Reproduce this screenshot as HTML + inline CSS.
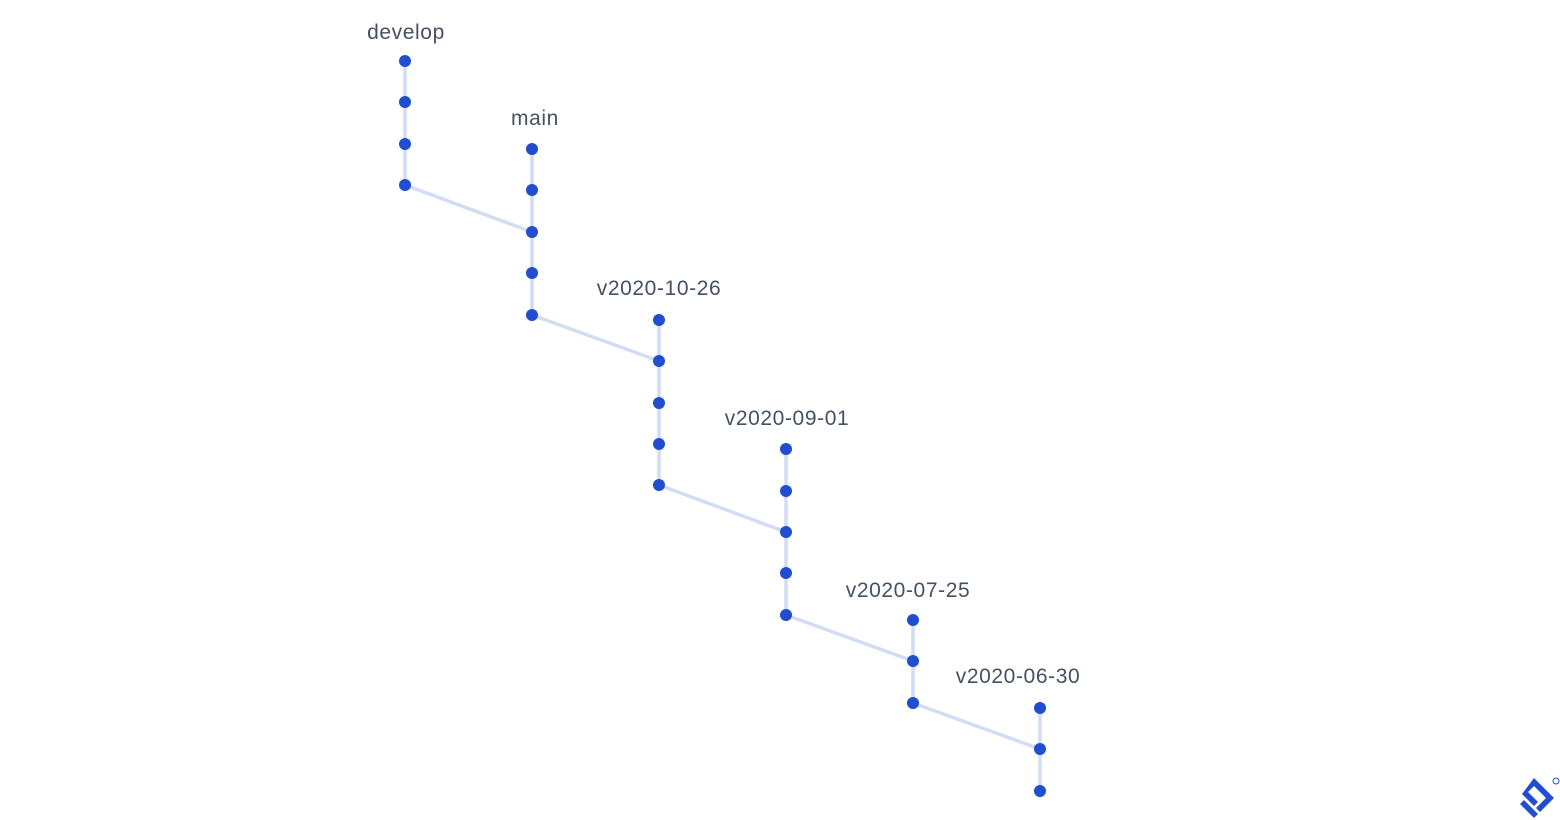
<!DOCTYPE html>
<html><head><meta charset="utf-8"><style>
html,body{margin:0;padding:0;background:#fff;}
svg{display:block}
text{font-family:"Liberation Sans",sans-serif;font-size:21px;letter-spacing:0.6px;fill:#455065;text-anchor:middle}
</style></head><body>
<svg width="1560" height="820" viewBox="0 0 1560 820">
<g stroke="#D3DCF5" stroke-width="3.5" fill="none">
<line x1="405" y1="61" x2="405" y2="185"/>
<line x1="405" y1="185" x2="532" y2="232"/>
<line x1="532" y1="149" x2="532" y2="315"/>
<line x1="532" y1="315" x2="659" y2="361"/>
<line x1="659" y1="320" x2="659" y2="485"/>
<line x1="659" y1="485" x2="786" y2="532"/>
<line x1="786" y1="449" x2="786" y2="615"/>
<line x1="786" y1="615" x2="913" y2="661"/>
<line x1="913" y1="620" x2="913" y2="703"/>
<line x1="913" y1="703" x2="1040" y2="749"/>
<line x1="1040" y1="708" x2="1040" y2="791"/>
</g>
<g fill="#204ECF">
<circle cx="405" cy="61" r="6"/><circle cx="405" cy="102" r="6"/><circle cx="405" cy="144" r="6"/><circle cx="405" cy="185" r="6"/>
<circle cx="532" cy="149" r="6"/><circle cx="532" cy="190" r="6"/><circle cx="532" cy="232" r="6"/><circle cx="532" cy="273" r="6"/><circle cx="532" cy="315" r="6"/>
<circle cx="659" cy="320" r="6"/><circle cx="659" cy="361" r="6"/><circle cx="659" cy="403" r="6"/><circle cx="659" cy="444" r="6"/><circle cx="659" cy="485" r="6"/>
<circle cx="786" cy="449" r="6"/><circle cx="786" cy="491" r="6"/><circle cx="786" cy="532" r="6"/><circle cx="786" cy="573" r="6"/><circle cx="786" cy="615" r="6"/>
<circle cx="913" cy="620" r="6"/><circle cx="913" cy="661" r="6"/><circle cx="913" cy="703" r="6"/>
<circle cx="1040" cy="708" r="6"/><circle cx="1040" cy="749" r="6"/><circle cx="1040" cy="791" r="6"/>
</g>
<text x="406" y="39">develop</text>
<text x="535" y="125">main</text>
<text x="659" y="295">v2020-10-26</text>
<text x="787" y="425">v2020-09-01</text>
<text x="908" y="597">v2020-07-25</text>
<text x="1018" y="683">v2020-06-30</text>
<g fill="#204ECF">
<path d="M1534 778 L1554 798 L1540 812 L1536 808 L1546 798 L1534 786 L1528 792 L1538 802 L1534 806 L1522 794 Z"/>
<path d="M1524 800 L1538 814 L1534 818 L1520 804 Z"/>
<circle cx="1556" cy="781" r="3" fill="none" stroke="#204ECF" stroke-width="1"/>
</g>
</svg>
</body></html>
